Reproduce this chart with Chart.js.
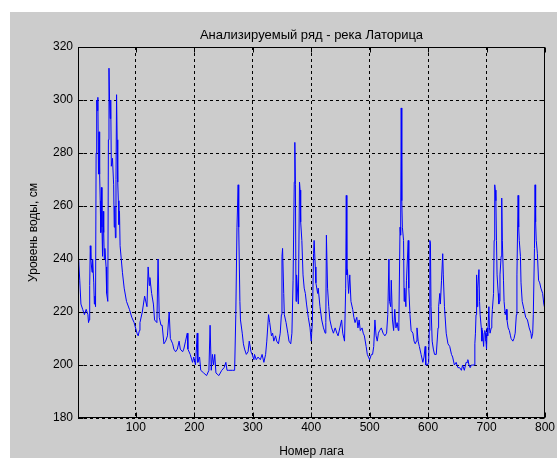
<!DOCTYPE html>
<html>
<head>
<meta charset="utf-8">
<script src="https://cdn.jsdelivr.net/npm/chart.js@4"></script>
<style>
  html, body { margin: 0; padding: 0; background: #fff; }
  #figure { position: absolute; left: 10px; top: 12px; width: 547px; height: 446px; background: #cccccc; }
  canvas { display: block; }
</style>
</head>
<body>
<div id="figure"><canvas id="levelChart" width="547" height="446"></canvas></div>
<script>
// Уровень воды, река Латорица: номер лага -> уровень, см
const lagNumbers = [
  1, 2, 4, 6, 9, 12, 15, 18, 19, 20, 21, 22, 23, 25, 26, 28, 29, 30, 31, 32,
  33, 34, 35, 36, 37, 38, 39, 40, 41, 42, 43, 44, 45, 46, 47, 49, 50, 52, 53, 54,
  55, 56, 57, 58, 60, 62, 63, 64, 65, 66, 67, 68, 69, 70, 71, 72, 73, 75, 77, 80,
  84, 89, 93, 97, 102, 104, 106, 107, 111, 115, 119, 121, 123, 124, 127, 130, 132, 136, 138, 140,
  143, 145, 148, 151, 154, 157, 159, 163, 165, 168, 171, 174, 176, 180, 182, 185, 188, 189, 193, 197,
  199, 202, 205, 206, 209, 211, 216, 221, 225, 227, 229, 231, 233, 235, 237, 242, 247, 251, 254, 256,
  259, 265, 269, 271, 273, 275, 276, 278, 279, 282, 284, 286, 289, 292, 294, 297, 299, 302, 303, 306,
  309, 313, 316, 319, 322, 324, 327, 329, 332, 334, 336, 339, 341, 344, 347, 349, 350, 351, 353, 354,
  357, 360, 362, 365, 367, 369, 371, 372, 373, 374, 375, 378, 380, 381, 382, 384, 386, 388, 390, 392,
  395, 398, 400, 402, 404, 405, 407, 408, 411, 412, 415, 418, 421, 424, 425, 426, 428, 430, 432, 435,
  438, 441, 444, 446, 449, 452, 454, 456, 457, 459, 460, 461, 462, 464, 466, 468, 471, 473, 475, 478,
  480, 482, 484, 487, 489, 491, 494, 496, 498, 500, 503, 505, 507, 509, 511, 513, 515, 517, 520, 523,
  526, 529, 531, 533, 534, 536, 537, 539, 541, 543, 545, 547, 549, 550, 552, 553, 554, 555, 556, 558,
  559, 560, 562, 563, 566, 567, 569, 571, 574, 576, 578, 580, 581, 583, 585, 588, 591, 593, 595, 596,
  599, 601, 602, 603, 604, 605, 607, 609, 611, 614, 617, 618, 620, 621, 623, 625, 626, 628, 631, 634,
  637, 640, 642, 645, 648, 651, 654, 657, 659, 662, 665, 667, 668, 670, 672, 674, 676, 679, 680, 681,
  682, 683, 684, 685, 687, 688, 689, 691, 692, 693, 695, 696, 697, 698, 699, 700, 701, 702, 704, 705,
  706, 708, 709, 710, 712, 713, 714, 715, 716, 717, 718, 720, 721, 722, 723, 725, 726, 727, 729, 730,
  732, 734, 735, 737, 739, 741, 742, 745, 747, 749, 751, 752, 754, 755, 756, 758, 759, 761, 764, 767,
  770, 773, 776, 777, 779, 780, 782, 783, 784, 785, 787, 789, 791, 793, 796, 798, 800
];

const waterLevels = [
  238, 240, 232, 223, 221, 219, 221, 219, 216, 217, 230, 245, 240, 235, 240, 231, 223, 226, 222, 280,
  300, 296, 301, 272, 288, 272, 262, 250, 267, 252, 241, 258, 250, 240, 244, 237, 227, 224, 285, 312,
  300, 293, 300, 275, 278, 268, 252, 260, 248, 270, 302, 285, 269, 262, 253, 258, 245, 240, 235, 229,
  224, 221, 218, 216, 212, 211, 213, 216, 220, 226, 222, 237, 230, 233, 227, 223, 217, 216, 240, 218,
  215, 215, 208, 209, 211, 220, 210, 208, 206, 205, 206, 209, 206, 205, 206, 209, 212, 206, 204, 201,
  203, 200, 212, 201, 203, 198, 197, 196, 198, 215, 198, 204, 200, 204, 197, 196, 198, 199, 201, 198,
  198, 198, 198, 219, 252, 268, 252, 224, 217, 212, 208, 206, 204, 205, 209, 205, 204, 202, 204, 202,
  203, 202, 204, 201, 204, 209, 219, 216, 211, 212, 209, 211, 209, 208, 212, 219, 241, 244, 227, 219,
  216, 212, 209, 208, 212, 232, 269, 284, 268, 224, 234, 223, 269, 266, 254, 247, 234, 229, 227, 223,
  218, 214, 209, 216, 242, 247, 237, 231, 227, 229, 222, 217, 214, 212, 216, 249, 229, 222, 217, 214,
  212, 214, 212, 211, 214, 217, 212, 210, 209, 229, 264, 234, 236, 227, 234, 224, 221, 218, 216, 218,
  214, 217, 213, 214, 212, 211, 207, 204, 203, 202, 204, 204, 207, 217, 211, 209, 212, 213, 214, 212,
  211, 212, 219, 240, 224, 222, 232, 217, 213, 221, 214, 216, 213, 216, 252, 249, 297, 262, 252, 247,
  224, 229, 222, 232, 247, 229, 219, 213, 212, 209, 208, 209, 214, 209, 207, 204, 201, 203, 207, 200,
  200, 201, 213, 247, 246, 222, 209, 206, 204, 204, 214, 222, 227, 223, 232, 242, 234, 222, 212, 208,
  207, 204, 203, 200, 201, 199, 199, 198, 200, 198, 201, 201, 202, 200, 199, 200, 200, 200, 208, 212,
  219, 234, 222, 229, 236, 224, 219, 214, 209, 213, 207, 212, 213, 212, 209, 206, 214, 211, 222, 214,
  212, 214, 217, 221, 227, 247, 268, 266, 262, 247, 234, 227, 223, 224, 234, 241, 263, 247, 232, 224,
  219, 221, 217, 214, 213, 211, 210, 209, 210, 212, 219, 234, 264, 252, 247, 241, 231, 224, 221, 218,
  217, 214, 212, 210, 212, 219, 244, 268, 254, 247, 242, 232, 231, 229, 227, 223, 221
];

const xTicks = [100, 200, 300, 400, 500, 600, 700, 800];
const yTicks = [180, 200, 220, 240, 260, 280, 300, 320];

const FONT = '"Liberation Sans", Arial, sans-serif';
const chartTitle = 'Анализируемый ряд - река Латорица';

// рамка осей и короткие засечки внутрь, как в MATLAB
const axesBox = {
  id: 'axesBox',
  afterDraw(chart) {
    const { ctx, chartArea: a, scales } = chart;
    const L = Math.round(a.left) + 0.5;
    const R = Math.round(a.right) - 0.5;
    const T = Math.round(a.top) + 0.5;
    const B = Math.round(a.bottom) - 0.5;
    ctx.save();
    ctx.strokeStyle = '#000';
    ctx.lineWidth = 1;
    ctx.setLineDash([]);
    ctx.strokeRect(L, T, R - L, B - T);
    ctx.beginPath();
    xTicks.forEach((v) => {
      const x = Math.round(scales.x.getPixelForValue(v)) + 0.5;
      ctx.moveTo(x, B); ctx.lineTo(x, B - 5);
      ctx.moveTo(x, T); ctx.lineTo(x, T + 5);
    });
    yTicks.forEach((v) => {
      const y = Math.round(scales.y.getPixelForValue(v)) + 0.5;
      ctx.moveTo(L, y); ctx.lineTo(L + 5, y);
      ctx.moveTo(R, y); ctx.lineTo(R - 5, y);
    });
    ctx.stroke();

    ctx.fillStyle = '#000';
    ctx.font = '13px ' + FONT;
    ctx.textAlign = 'center';
    ctx.textBaseline = 'middle';
    ctx.fillText(chartTitle, (a.left + a.right) / 2, 23);
    ctx.restore();
  }
};

new Chart(document.getElementById('levelChart'), {
  type: 'line',
  data: {
    datasets: [{
      data: lagNumbers.map((lag, i) => ({ x: lag, y: waterLevels[i] })),
      borderColor: '#0000ff',
      borderWidth: 1,
      pointRadius: 0,
      tension: 0,
      fill: false
    }]
  },
  options: {
    responsive: false,
    animation: false,
    layout: { padding: { top: 35, right: 8, bottom: 0, left: 0 } },
    plugins: {
      legend: { display: false },
      tooltip: { enabled: false }
    },
    scales: {
      x: {
        type: 'linear',
        min: 1,
        max: 800,
        afterBuildTicks: (scale) => { scale.ticks = xTicks.map((value) => ({ value })); },
        afterFit: (scale) => { scale.height = 40; },
        grid: { color: '#000', lineWidth: 1, tickLength: 0, borderDash: [3, 3] },
        border: { display: false, dash: [3, 3] },
        ticks: { color: '#000', padding: 2, maxRotation: 0, font: { family: FONT, size: 12 } },
        title: {
          display: true,
          text: 'Номер лага',
          color: '#000',
          padding: 0,
          font: { family: FONT, size: 12, lineHeight: 1 }
        }
      },
      y: {
        min: 180,
        max: 320,
        afterBuildTicks: (scale) => { scale.ticks = yTicks.map((value) => ({ value })); },
        afterFit: (scale) => { scale.width = 68; },
        grid: { color: '#000', lineWidth: 1, tickLength: 0, borderDash: [3, 3] },
        border: { display: false, dash: [3, 3] },
        ticks: { color: '#000', padding: 5, font: { family: FONT, size: 12 } },
        title: {
          display: true,
          text: 'Уровень воды, см',
          color: '#000',
          padding: { top: 18, bottom: 0 },
          font: { family: FONT, size: 12, lineHeight: 1 }
        }
      }
    }
  },
  plugins: [axesBox]
});
</script>
</body>
</html>
